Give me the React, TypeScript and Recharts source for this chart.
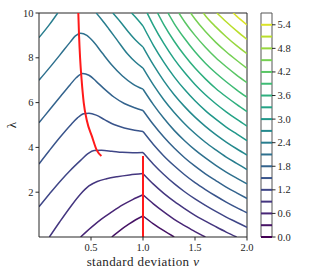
import React from 'react';
import { LineChart, Line, XAxis, YAxis, ReferenceLine, ReferenceArea } from 'recharts';

/* ================= DATA ================= */
type Pt = [number, number]; // [v, lambda]

const levels = [0, 0.3, 0.6, 0.9, 1.2, 1.5, 1.8, 2.1, 2.4, 2.7, 3.0, 3.3, 3.6, 3.9, 4.2, 4.5, 4.8, 5.1, 5.4];
const cbMax = 5.7;
const cbTicks = [0, 0.6, 1.2, 1.8, 2.4, 3.0, 3.6, 4.2, 4.8, 5.4];
const xTicks = [0.5, 1.0, 1.5, 2.0];
const yTicks = [2, 4, 6, 8, 10];

const c030: Pt[] = [[0.7, 0], [0.78, 0.3], [0.86, 0.56], [0.93, 0.77], [1.0, 0.94], [1.1, 0.59], [1.2, 0.28], [1.3, 0]];
const c060: Pt[] = [[0.4, 0], [0.5, 0.42], [0.6, 0.8], [0.7, 1.12], [0.8, 1.42], [0.9, 1.67], [1.0, 1.885],
  [1.1, 1.48], [1.2, 1.12], [1.3, 0.79], [1.4, 0.51], [1.5, 0.24], [1.6, 0]];
const c090: Pt[] = [[0.1, 0], [0.2, 0.68], [0.3, 1.33], [0.4, 1.92], [0.48, 2.28], [0.56, 2.48], [0.65, 2.6], [0.75, 2.69], [0.87, 2.77], [1.0, 2.83],
  [1.1, 2.36], [1.2, 1.95], [1.3, 1.59], [1.4, 1.27], [1.5, 0.97], [1.6, 0.71], [1.7, 0.46], [1.8, 0.22], [1.9, 0]];
const c120: Pt[] = [[0, 1.35], [0.1, 1.92], [0.2, 2.47], [0.3, 2.97], [0.4, 3.42], [0.47, 3.72], [0.53, 3.86], [0.6, 3.87], [0.7, 3.83], [0.8, 3.78], [0.9, 3.76], [1.0, 3.77],
  [1.1, 3.25], [1.2, 2.79], [1.3, 2.38], [1.4, 2.02], [1.5, 1.7], [1.6, 1.41], [1.7, 1.14], [1.8, 0.89], [1.9, 0.66], [2.0, 0.43]];
const c150: Pt[] = [[0, 3.26], [0.1, 3.86], [0.2, 4.44], [0.3, 4.98], [0.37, 5.32], [0.43, 5.5], [0.48, 5.52], [0.55, 5.44], [0.63, 5.24], [0.72, 5.02], [0.82, 4.87], [0.92, 4.77], [1.0, 4.71],
  [1.1, 4.13], [1.2, 3.62], [1.3, 3.18], [1.4, 2.78], [1.5, 2.43], [1.6, 2.12], [1.7, 1.83], [1.8, 1.56], [1.9, 1.31], [2.0, 1.08]];
const c180: Pt[] = [[0, 5.1], [0.1, 5.67], [0.2, 6.24], [0.3, 6.8], [0.36, 7.12], [0.42, 7.3], [0.48, 7.22], [0.55, 6.95], [0.63, 6.6], [0.72, 6.25], [0.82, 5.96], [0.92, 5.77], [1.0, 5.65],
  [1.1, 5.02], [1.2, 4.46], [1.3, 3.97], [1.4, 3.54], [1.5, 3.16], [1.6, 2.82], [1.7, 2.52], [1.8, 2.23], [1.9, 1.97], [2.0, 1.72]];
const c210: Pt[] = [[0, 7.0], [0.1, 7.55], [0.2, 8.12], [0.3, 8.7], [0.35, 8.98], [0.4, 9.1], [0.46, 9.0], [0.53, 8.68], [0.61, 8.2], [0.7, 7.68], [0.8, 7.2], [0.9, 6.84], [1.0, 6.6],
  [1.1, 5.91], [1.2, 5.3], [1.3, 4.76], [1.4, 4.3], [1.5, 3.89], [1.6, 3.53], [1.7, 3.2], [1.8, 2.9], [1.9, 2.63], [2.0, 2.37]];
const c240a: Pt[] = [[0, 8.9], [0.1, 9.48], [0.18, 10]];
const c240b: Pt[] = [[0.55, 10], [0.6, 9.72], [0.67, 9.3], [0.75, 8.8], [0.85, 8.18], [0.93, 7.8], [1.0, 7.54],
  [1.1, 6.79], [1.2, 6.13], [1.3, 5.56], [1.4, 5.06], [1.5, 4.62], [1.6, 4.23], [1.7, 3.89], [1.8, 3.57], [1.9, 3.29], [2.0, 3.01]];
const c270: Pt[] = [[0.71, 10], [0.78, 9.62], [0.86, 9.15], [0.93, 8.78], [1.0, 8.48],
  [1.1, 7.68], [1.2, 6.97], [1.3, 6.35], [1.4, 5.82], [1.5, 5.35], [1.6, 4.94], [1.7, 4.57], [1.8, 4.24], [1.9, 3.94], [2.0, 3.66]];
const c300: Pt[] = [[0.89, 10], [0.95, 9.7], [1.0, 9.42],
  [1.1, 8.56], [1.2, 7.81], [1.3, 7.15], [1.4, 6.58], [1.5, 6.08], [1.6, 5.64], [1.7, 5.26], [1.8, 4.91], [1.9, 4.6], [2.0, 4.3]];
const c330: Pt[] = [[1.04, 10], [1.1, 9.45], [1.2, 8.64], [1.3, 7.94], [1.4, 7.34], [1.5, 6.81], [1.6, 6.35], [1.7, 5.95], [1.8, 5.59], [1.9, 5.26], [2.0, 4.95]];
const c360: Pt[] = [[1.14, 10], [1.2, 9.48], [1.3, 8.74], [1.4, 8.1], [1.5, 7.54], [1.6, 7.06], [1.7, 6.63], [1.8, 6.26], [1.9, 5.92], [2.0, 5.6]];
const c390: Pt[] = [[1.24, 10], [1.3, 9.53], [1.4, 8.86], [1.5, 8.27], [1.6, 7.76], [1.7, 7.32], [1.8, 6.93], [1.9, 6.57], [2.0, 6.24]];
const c420: Pt[] = [[1.345, 10], [1.4, 9.61], [1.5, 9.0], [1.6, 8.47], [1.7, 8.0], [1.8, 7.6], [1.9, 7.23], [2.0, 6.89]];
const c450: Pt[] = [[1.458, 10], [1.5, 9.73], [1.6, 9.17], [1.7, 8.69], [1.8, 8.27], [1.9, 7.89], [2.0, 7.53]];
const c480: Pt[] = [[1.58, 10], [1.6, 9.88], [1.7, 9.38], [1.8, 8.94], [1.9, 8.54], [2.0, 8.18]];
const c510: Pt[] = [[1.71, 10], [1.8, 9.61], [1.9, 9.2], [2.0, 8.82]];
const c540: Pt[] = [[1.867, 10], [1.9, 9.86], [2.0, 9.47]];

// red curves
const ridge: Pt[] = [[0.378, 10], [0.385, 9.0], [0.395, 8.0], [0.41, 7.0], [0.43, 6.0], [0.46, 5.2], [0.51, 4.48], [0.555, 3.88], [0.6, 3.62]];
const kinkLine: Pt[] = [[1.0, 0], [1.0, 3.62]];

const contours: { level: number; pts: Pt[] }[] = [
  { level: 0.3, pts: c030 }, { level: 0.6, pts: c060 }, { level: 0.9, pts: c090 },
  { level: 1.2, pts: c120 }, { level: 1.5, pts: c150 }, { level: 1.8, pts: c180 },
  { level: 2.1, pts: c210 }, { level: 2.4, pts: c240a }, { level: 2.4, pts: c240b },
  { level: 2.7, pts: c270 }, { level: 3.0, pts: c300 }, { level: 3.3, pts: c330 },
  { level: 3.6, pts: c360 }, { level: 3.9, pts: c390 }, { level: 4.2, pts: c420 },
  { level: 4.5, pts: c450 }, { level: 4.8, pts: c480 }, { level: 5.1, pts: c510 },
  { level: 5.4, pts: c540 },
];

/* ================= HELPERS ================= */
const VIRIDIS = ['#440154', '#482878', '#3e4989', '#31688e', '#26828e', '#1f9e89', '#35b779', '#6ece58', '#b5de2b', '#fde725'];

const hex = (c: string) => [1, 3, 5].map((i) => parseInt(c.slice(i, i + 2), 16));

const viridis = (t: number) => {
  const x = Math.max(0, Math.min(1, t)) * (VIRIDIS.length - 1);
  const i = Math.min(Math.floor(x), VIRIDIS.length - 2);
  const f = x - i;
  const a = hex(VIRIDIS[i]);
  const b = hex(VIRIDIS[i + 1]);
  const m = a.map((v, k) => Math.round(v + (b[k] - v) * f));
  return `rgb(${m[0]},${m[1]},${m[2]})`;
};

const toRows = (pts: Pt[]) => pts.map(([v, l]) => ({ v, l }));

// split each contour at the kink v = 1 so both sides stay smooth
const segments = contours.flatMap((c, i) => {
  const left = c.pts.filter((p) => p[0] <= 1);
  const right = c.pts.filter((p) => p[0] >= 1);
  const color = viridis(c.level / cbMax);
  const out: { key: string; rows: { v: number; l: number }[]; color: string }[] = [];
  if (left.length > 1) out.push({ key: `c${i}l`, rows: toRows(left), color });
  if (right.length > 1) out.push({ key: `c${i}r`, rows: toRows(right), color });
  return out;
});

const FONT = '"Liberation Serif", "Times New Roman", serif';
const INK = '#262626';

/* ================= TICKS ================= */
type TickProps = { x?: number; y?: number; payload?: { value: number }; textAnchor?: string };

const makeTick = (fmt: (n: number) => string, dx: number, dy: number, anchor: 'start' | 'middle' | 'end') =>
  function Tick({ x = 0, y = 0, payload }: TickProps) {
    return (
      <text
        x={x + dx}
        y={y + dy}
        textAnchor={anchor}
        style={{ fontFamily: FONT, fontSize: 10.5, fill: INK }}
      >
        {fmt(payload ? payload.value : 0)}
      </text>
    );
  };

const XTick = makeTick((n) => n.toFixed(1), 0, 8.5, 'middle');
const YTick = makeTick((n) => String(n), 0, 3.5, 'end');
const CbTick = makeTick((n) => n.toFixed(1), 0, 3.5, 'start');

/* ================= COMPONENT ================= */
export default function App() {
  return (
    <div style={{ position: 'absolute', left: 0, top: 0, width: 309, height: 277, background: '#fff', fontFamily: FONT }}>
      <LineChart
        width={309}
        height={277}
        margin={{ top: 13, right: 62, bottom: 10, left: 9 }}
        style={{ position: 'absolute', left: 0, top: 0 }}
      >
        <XAxis
          type="number"
          dataKey="v"
          domain={[0, 2]}
          ticks={xTicks}
          height={30}
          tickSize={3.5}
          tickMargin={2}
          stroke={INK}
          tick={<XTick />}
          allowDataOverflow
        />
        <YAxis
          type="number"
          dataKey="l"
          domain={[0, 10]}
          ticks={yTicks}
          width={30}
          tickSize={3.5}
          tickMargin={2}
          stroke={INK}
          tick={<YTick />}
          allowDataOverflow
        />
        <ReferenceLine y={10} stroke={INK} strokeWidth={1} />
        <ReferenceLine x={2} stroke={INK} strokeWidth={1} />
        {segments.map((s) => (
          <Line
            key={s.key}
            data={s.rows}
            dataKey="l"
            type="monotone"
            stroke={s.color}
            strokeWidth={1.5}
            dot={false}
            activeDot={false}
            isAnimationActive={false}
          />
        ))}
        <Line data={toRows(ridge)} dataKey="l" type="monotone" stroke="#ff1a1a" strokeWidth={2} dot={false} activeDot={false} isAnimationActive={false} />
        <Line data={toRows(kinkLine)} dataKey="l" type="linear" stroke="#ff1a1a" strokeWidth={2} dot={false} activeDot={false} isAnimationActive={false} />
      </LineChart>

      {/* colour bar */}
      <LineChart
        width={309}
        height={277}
        data={[{ x: 0, y: 0 }, { x: 1, y: cbMax }]}
        margin={{ top: 13, right: 0, bottom: 40, left: 261 }}
        style={{ position: 'absolute', left: 0, top: 0 }}
      >
        <XAxis type="number" dataKey="x" domain={[0, 1]} hide />
        <YAxis
          orientation="right"
          type="number"
          dataKey="y"
          domain={[0, cbMax]}
          ticks={cbTicks}
          width={37}
          tickSize={3.5}
          tickMargin={2}
          stroke={INK}
          axisLine={false}
          tick={<CbTick />}
        />
        <Line dataKey="y" stroke="none" dot={false} activeDot={false} isAnimationActive={false} />
        {levels.map((lv) => (
          <ReferenceLine key={lv} y={lv} stroke={viridis(lv / cbMax)} strokeWidth={2} />
        ))}
        <ReferenceArea x1={0} x2={1} y1={0} y2={cbMax} fill="none" fillOpacity={0} stroke="#555" strokeWidth={1} />
      </LineChart>

      <div
        style={{
          position: 'absolute', left: 143, top: 262, transform: 'translate(-50%, -50%)',
          fontSize: 13, color: INK, whiteSpace: 'nowrap', letterSpacing: 0.4,
        }}
      >
        standard deviation <i>v</i>
      </div>
      <div
        style={{
          position: 'absolute', left: 12, top: 125, transform: 'translate(-50%, -50%) rotate(-90deg)',
          fontSize: 13, color: INK,
        }}
      >
        λ
      </div>
    </div>
  );
}
